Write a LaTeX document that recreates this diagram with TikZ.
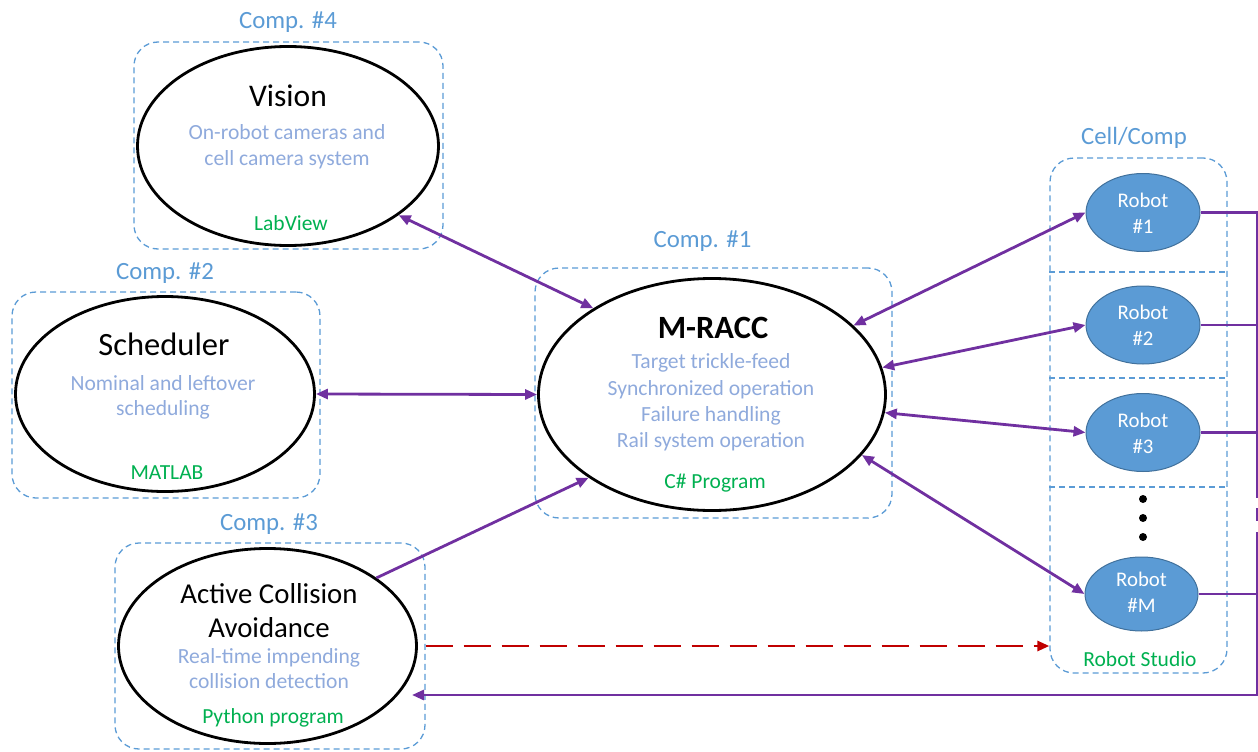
\documentclass[tikz,border=0pt]{standalone}
\usepackage{fontspec}
\setmainfont{Carlito}
\usetikzlibrary{arrows.meta,shapes.geometric}
\definecolor{compblue}{HTML}{5B9BD5}
\definecolor{subblue}{HTML}{8FAADC}
\definecolor{progreen}{HTML}{00B050}
\definecolor{linkpurple}{HTML}{7030A0}
\definecolor{warnred}{HTML}{C00000}
\definecolor{robotedge}{HTML}{41719C}
\tikzset{
  compbox/.style={draw=compblue, line width=1.3pt, dash pattern=on 6pt off 4pt, rounded corners=24pt, inner sep=0pt},
  sepline/.style={draw=compblue, line width=1.3pt, dash pattern=on 6pt off 4pt},
  bigell/.style={ellipse, draw=black, line width=2.8pt, inner sep=0pt},
  robotell/.style={ellipse, draw=robotedge, fill=compblue, line width=1pt, inner sep=0pt, minimum width=114pt, minimum height=78pt},
  complabel/.style={text=compblue, font=\fontsize{24.8}{28}\selectfont, anchor=base, inner sep=0pt},
  titletext/.style={text=black, font=\fontsize{31.5}{36}\selectfont, anchor=base, inner sep=0pt},
  subtext/.style={text=subblue, font=\fontsize{21.6}{25}\selectfont, anchor=base, inner sep=0pt},
  progtext/.style={text=progreen, font=\fontsize{21.5}{24}\selectfont, anchor=base, inner sep=0pt},
  robottext/.style={text=white, font=\fontsize{20.8}{24}\selectfont, anchor=base, inner sep=0pt},
  dotnode/.style={circle, fill=black, inner sep=0pt, minimum size=8pt},
  ptip/.tip={Triangle[length=12pt,width=10pt]},
  duplex/.style={draw=linkpurple, line width=2.8pt, ptip-ptip},
  simplex/.style={draw=linkpurple, line width=2.8pt, -ptip},
  bus/.style={draw=linkpurple, line width=2.8pt},
  redlink/.style={draw=warnred, line width=2.8pt, dash pattern=on 27pt off 11pt, -{Triangle[length=12pt,width=10pt]}}
}
\begin{document}
\begin{tikzpicture}[x=1pt,y=-1pt]
\useasboundingbox (0,0) rectangle (1258,752);

% ---------- Vision (Comp. #4)
\node[compbox, minimum width=309pt, minimum height=207pt] (visbox) at (288.5,145.5) {};
\node[complabel] (vislab) at (288,29) {Comp. \#4};
\node[bigell, minimum width=301pt, minimum height=199pt] (vis) at (288,146) {};
\node[titletext] (vist) at (288,106) {Vision};
\node[subtext] (viss1) at (287,139) {On-robot cameras and};
\node[subtext] (viss2) at (287,165) {cell camera system};
\node[progtext] (visp) at (291,230) {LabView};

% ---------- Scheduler (Comp. #2)
\node[compbox, minimum width=308pt, minimum height=206pt] (schbox) at (166,395) {};
\node[complabel] (schlab) at (165,279) {Comp. \#2};
\node[bigell, minimum width=299pt, minimum height=195pt] (sch) at (165,394) {};
\node[titletext, font=\fontsize{32.5}{36}\selectfont] (scht) at (164,355) {Scheduler};
\node[subtext] (schs1) at (163,390) {Nominal and leftover};
\node[subtext] (schs2) at (163,415) {scheduling};
\node[progtext] (schp) at (167,479) {MATLAB};

% ---------- M-RACC (Comp. #1)
\node[compbox, minimum width=357pt, minimum height=250pt] (racbox) at (713.5,393) {};
\node[complabel] (raclab) at (702.5,247) {Comp. \#1};
\node[bigell, minimum width=347pt, minimum height=232pt] (rac) at (712,394.5) {};
\node[titletext, font=\bfseries\fontsize{32.5}{36}\selectfont] (ract) at (713,338) {M-RACC};
\node[subtext] (racs1) at (711,368) {Target trickle-feed};
\node[subtext] (racs2) at (711,395) {Synchronized operation};
\node[subtext] (racs3) at (711,421) {Failure handling};
\node[subtext] (racs4) at (711,447) {Rail system operation};
\node[progtext] (racp) at (715,488) {C\# Program};

% ---------- Active Collision Avoidance (Comp. #3)
\node[compbox, minimum width=310pt, minimum height=206pt] (acabox) at (270,646) {};
\node[complabel] (acalab) at (269,530) {Comp. \#3};
\node[bigell, minimum width=298pt, minimum height=195pt] (aca) at (267.5,646) {};
\node[titletext, font=\fontsize{28.8}{34}\selectfont] (acat1) at (269,603) {Active Collision};
\node[titletext, font=\fontsize{28.8}{34}\selectfont] (acat2) at (269,637) {Avoidance};
\node[subtext] (acas1) at (269,663) {Real-time impending};
\node[subtext] (acas2) at (269,688) {collision detection};
\node[progtext] (acap) at (273,723) {Python program};

% ---------- Cell / robots
\node[compbox, minimum width=177pt, minimum height=515pt] (cellbox) at (1138.5,415.5) {};
\node[complabel] (celllab) at (1134,144) {Cell/Comp};
\draw[sepline] (cellbox.west |- 0,272) -- (cellbox.east |- 0,272);
\draw[sepline] (cellbox.west |- 0,378) -- (cellbox.east |- 0,378);
\draw[sepline] (cellbox.west |- 0,487) -- (cellbox.east |- 0,487);

\node[robotell] (r1) at (1143,212.5) {};
\node[robottext] (r1a) at (1143,207) {Robot};
\node[robottext] (r1b) at (1143,233) {\#1};
\node[robotell] (r2) at (1143,325) {};
\node[robottext] (r2a) at (1143,319.5) {Robot};
\node[robottext] (r2b) at (1143,345.5) {\#2};
\node[robotell] (r3) at (1143,432.5) {};
\node[robottext] (r3a) at (1143,427) {Robot};
\node[robottext] (r3b) at (1143,453) {\#3};
\node[robotell, minimum width=113pt, minimum height=74pt] (rM) at (1141.5,594) {};
\node[robottext] (rMa) at (1141.5,586) {Robot};
\node[robottext] (rMb) at (1141.5,612) {\#M};

\node[dotnode] (d1) at (1143,499) {};
\node[dotnode] (d2) at (1143,518) {};
\node[dotnode] (d3) at (1143,537) {};
\node[progtext] (cellp) at (1140,666) {Robot Studio};

% ---------- connectors
\draw[duplex] (vis.-32) -- (rac.144.5);
\draw[duplex] (sch.0) -- (rac.180);
\draw[simplex] (aca.32) -- (rac.214);
\draw[duplex] (rac.26) -- (r1.west);
\draw[duplex] (rac.9) -- (r2.west);
\draw[duplex] (rac.-6) -- (r3.west);
\draw[duplex] (rac.-22) -- (rM.west);
\draw[redlink] (acabox.east) -- (cellbox.west |- acabox.east);

% ---------- bus back to collision avoidance
\coordinate (gapA) at (1257,498);
\coordinate (gapB) at (1257,508);
\coordinate (gapC) at (1257,521);
\coordinate (gapD) at (1257,532);
\coordinate (busEnd) at (1257,695);
\coordinate (acaIn) at (412,695);
\draw[bus] (r1.east) -- (r1.east -| gapA) -- (gapA);
\draw[bus] (r2.east) -- (r2.east -| gapA);
\draw[bus] (r3.east) -- (r3.east -| gapA);
\draw[bus] (gapB) -- (gapC);
\draw[bus] (rM.east) -- (rM.east -| gapA);
\draw[bus, -ptip] (gapD) -- (busEnd) -- (acaIn);
\end{tikzpicture}
\end{document}
